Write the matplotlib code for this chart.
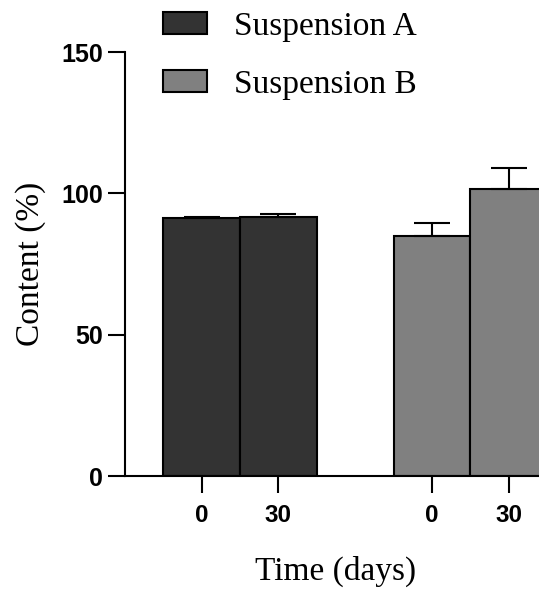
import numpy as np
from matplotlib import pyplot as plt

# bar data
groups = ["Suspension A", "Suspension B"]
days = ["0", "30", "0", "30"]
positions = [0, 1, 3, 4]
content_a = [91.3, 91.6]
content_b = [84.8, 101.4]
error_a = [0.3, 1.1]
error_b = [4.6, 7.6]
colours = ["#333333", "#808080"]

serif = "Liberation Serif"
sans = "Liberation Sans"

fig = plt.figure(figsize=(5.39, 5.9), dpi=100)
ax = fig.add_axes([125 / 539, 114 / 590, 422 / 539, 424 / 590])

for index, (values, errors) in enumerate(
        [(content_a, error_a), (content_b, error_b)]):
    x = positions[2 * index:2 * index + 2]
    ax.bar(
        x, values, width=1.0, color=colours[index],
        edgecolor="black", linewidth=1.5, label=groups[index],
        yerr=[np.zeros(len(errors)), errors],
        error_kw=dict(ecolor="black", elinewidth=1.5, capsize=13,
                      capthick=1.5),
    )

ax.set_xlim(-1, 4.5)
ax.set_ylim(0, 150)
ax.set_yticks([0, 50, 100, 150])
ax.set_xticks(positions)
ax.set_xticklabels(days)

for side in ["top", "right"]:
    ax.spines[side].set_visible(False)
for side in ["left", "bottom"]:
    ax.spines[side].set_linewidth(1.5)

ax.tick_params(axis="both", length=12.5, width=1.5)
ax.tick_params(axis="y", pad=3.5)
ax.tick_params(axis="x", pad=8)
for label in ax.get_yticklabels():
    label.set_fontfamily(sans)
    label.set_fontweight("bold")
    label.set_fontsize(18)
for label in ax.get_xticklabels():
    label.set_fontfamily(sans)
    label.set_fontweight("bold")
    label.set_fontsize(17.5)

ax.set_ylabel("Content (%)", fontfamily=serif, fontsize=24)
ax.set_xlabel("Time (days)", fontfamily=serif, fontsize=24)
ax.yaxis.set_label_coords(-0.187, 0.5)
ax.xaxis.set_label_coords(0.5, -0.189)

ax.legend(
    loc="upper left", bbox_to_anchor=(163 / 539, 0.981),
    bbox_transform=fig.transFigure, frameon=False,
    prop=dict(family=serif, size=24),
    handlelength=1.33, handleheight=0.67, handletextpad=0.8,
    labelspacing=0.82, borderpad=0.0, borderaxespad=0.0,
)

fig.savefig("out.png", dpi=100)
